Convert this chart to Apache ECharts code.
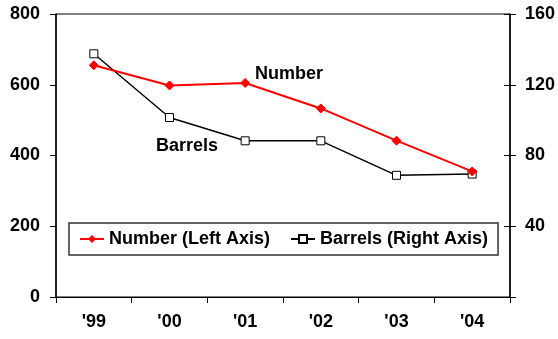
<!DOCTYPE html>
<html>
<head>
<meta charset="utf-8">
<script src="https://cdn.jsdelivr.net/npm/echarts@6/dist/echarts.min.js"></script>
<style>
html,body{margin:0;padding:0;background:#fff;}
#c{width:558px;height:339px;}
</style>
</head>
<body>
<div id="c"></div>
<script>
var categories = ["'99", "'00", "'01", "'02", "'03", "'04"];
var numberValues = [655, 598, 605, 533, 442, 355];
var barrelValues = [137.5, 101.5, 88.3, 88.3, 68.8, 69.5];
var leftTicks = [0, 200, 400, 600, 800];
var rightTicks = [40, 80, 120, 160];

var FONT = 'Liberation Sans, Arial, sans-serif';
var chart = echarts.init(document.getElementById('c'), null, {renderer: 'canvas'});
var lbl = {fontFamily: FONT, fontWeight: 'bold', fontSize: 18, color: '#000'};
chart.setOption({
  animation: false,
  backgroundColor: '#fff',
  grid: {left: 56, right: 48, top: 14, bottom: 42, outerBoundsMode: 'none', containLabel: false, show: true, borderColor: '#000', borderWidth: 1, backgroundColor: 'transparent'},
  legend: {
    left: 69, top: 223, width: 427, height: 35,
    orient: 'horizontal',
    borderColor: '#333', borderWidth: 1.5, padding: [7, 10, 7, 10],
    itemGap: 20, itemWidth: 24, itemHeight: 10,
    textStyle: {fontFamily: FONT, fontWeight: 'bold', fontSize: 18, color: '#000'},
    data: ['Number (Left Axis)', 'Barrels (Right Axis)']
  },
  xAxis: {
    type: 'category', data: categories, boundaryGap: true,
    axisLine: {lineStyle: {color: '#000', width: 1}},
    axisTick: {show: true, length: 6, lineStyle: {color: '#000'}},
    axisLabel: Object.assign({margin: 16}, lbl),
    splitLine: {show: false}
  },
  yAxis: [
    {
      type: 'value', min: 0, max: 800, interval: 200, position: 'left',
      axisLine: {show: true, lineStyle: {color: '#000', width: 1.5}},
      axisTick: {show: true, length: 6, lineStyle: {color: '#000'}},
      axisLabel: Object.assign({margin: 16, formatter: function(v){return leftTicks.indexOf(v) >= 0 ? String(v) : '';}}, lbl),
      splitLine: {show: false}
    },
    {
      type: 'value', min: 0, max: 160, interval: 40, position: 'right',
      axisLine: {show: true, lineStyle: {color: '#000', width: 1.5}},
      axisTick: {show: true, length: 6, lineStyle: {color: '#000'}},
      axisLabel: Object.assign({margin: 15, formatter: function(v){return rightTicks.indexOf(v) >= 0 ? String(v) : '';}}, lbl),
      splitLine: {show: false}
    },
    {
      type: 'value', min: 0, max: 160, interval: 40, position: 'right',
      axisLine: {show: false},
      axisTick: {show: true, inside: true, length: 6, lineStyle: {color: '#000'}},
      axisLabel: {show: false},
      splitLine: {show: false}
    }
  ],
  series: [
    {
      name: 'Number (Left Axis)', type: 'line', yAxisIndex: 0, data: numberValues,
      symbol: 'diamond', symbolSize: 9,
      lineStyle: {color: '#ff0000', width: 2},
      itemStyle: {color: '#ff0000', borderColor: '#ff0000'},
      z: 3
    },
    {
      name: 'Barrels (Right Axis)', type: 'line', yAxisIndex: 1, data: barrelValues,
      symbol: 'rect', symbolSize: 8,
      lineStyle: {color: '#000', width: 1.5},
      itemStyle: {color: '#fff', borderColor: '#000', borderWidth: 1},
      z: 2
    }
  ],
  graphic: [
    {type: 'text', left: 255, top: 65, style: {text: 'Number', font: 'bold 18px ' + FONT, fill: '#000'}},
    {type: 'text', left: 156, top: 137, style: {text: 'Barrels', font: 'bold 18px ' + FONT, fill: '#000'}}
  ]
});
</script>
</body>
</html>
